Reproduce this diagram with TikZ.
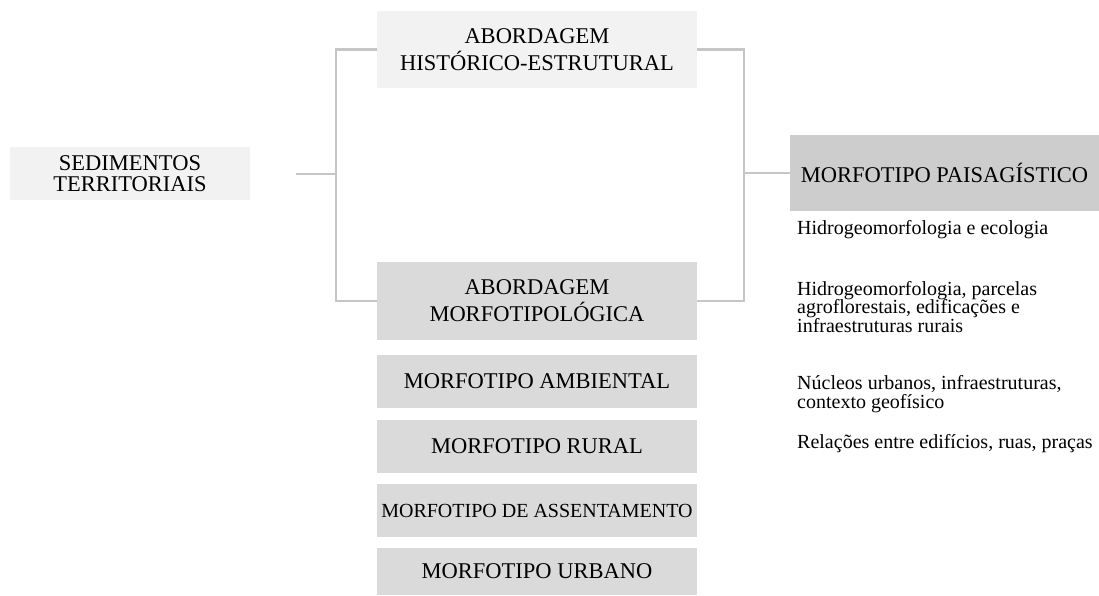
\documentclass[tikz,border=0pt]{standalone}
\usepackage{fontspec}
\setmainfont{Liberation Serif}
\definecolor{boxlight}{HTML}{F2F2F2}
\definecolor{boxmid}{HTML}{DADADA}
\definecolor{boxdark}{HTML}{CDCDCD}
\definecolor{linegray}{HTML}{C6C6C6}
\begin{document}
\begin{tikzpicture}[x=1pt,y=-1pt,
  box/.style={inner sep=0pt, align=center, text=black},
  lightbox/.style={box, fill=boxlight},
  midbox/.style={box, fill=boxmid, minimum width=320pt},
  conn/.style={draw=linegray, line width=2.2pt},
  note/.style={inner sep=0pt, anchor=west, align=left, font=\fontsize{20}{18.5}\selectfont}
]
\useasboundingbox (0,0) rectangle (1099,595);

\node[lightbox, minimum width=240pt, minimum height=53pt, font=\fontsize{22.5}{21.5}\selectfont] (sed) at (130,173.5) {SEDIMENTOS\\TERRITORIAIS};
\node[lightbox, minimum width=320pt, minimum height=77pt, font=\fontsize{22.5}{27}\selectfont] (hist) at (537,49.5) {ABORDAGEM\\HISTÓRICO-ESTRUTURAL};
\node[midbox, minimum height=78pt, font=\fontsize{22.5}{27}\selectfont] (morf) at (537,301) {ABORDAGEM\\MORFOTIPOLÓGICA};
\node[midbox, minimum height=53pt, font=\fontsize{22.5}{27}\selectfont] (amb) at (537,381.5) {MORFOTIPO AMBIENTAL};
\node[midbox, minimum height=53pt, font=\fontsize{22.5}{27}\selectfont] (rur) at (537,446.5) {MORFOTIPO RURAL};
\node[midbox, minimum height=53pt, font=\fontsize{20}{24}\selectfont] (ass) at (537,510.5) {MORFOTIPO DE ASSENTAMENTO};
\node[midbox, minimum height=47pt, font=\fontsize{22.5}{27}\selectfont] (urb) at (537,571.5) {MORFOTIPO URBANO};
\node[box, fill=boxdark, minimum width=309pt, minimum height=76pt, font=\fontsize{22.5}{27}\selectfont] (pais) at (944.5,173) {MORFOTIPO PAISAGÍSTICO};

\node[note] (n1) at (797,230) {Hidrogeomorfologia e ecologia};
\node[note] (n2) at (797,307) {Hidrogeomorfologia, parcelas\\agroflorestais, edificações e\\infraestruturas rurais};
\node[note] (n3) at (797,394) {Núcleos urbanos, infraestruturas,\\contexto geofísico};
\node[note] (n4) at (797,444) {Relações entre edifícios, ruas, praças};

\coordinate (sedstub) at (296,174);
\coordinate (jl) at (336,174);
\coordinate (jr) at (744,173);

\draw[conn] (sedstub) -- (jl);
\draw[conn] (hist.west) -| (jl) |- (morf.west);
\draw[conn] (hist.east) -| (jr) |- (morf.east);
\draw[conn] (jr) -- (pais.west);
\end{tikzpicture}
\end{document}
